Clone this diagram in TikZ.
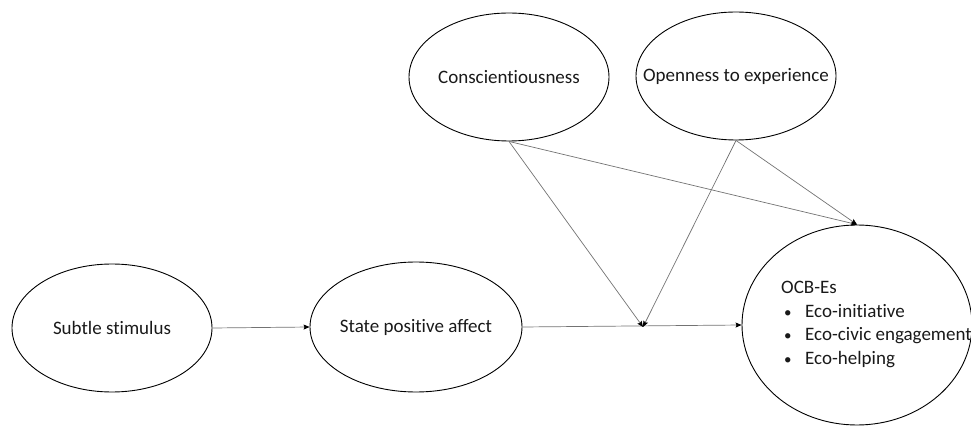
\documentclass[tikz,border=0pt]{standalone}
\usepackage{fontspec}
\setmainfont{Carlito}[Ligatures=CommonOff]
\usetikzlibrary{shapes.geometric,arrows.meta}
\begin{document}
\begin{tikzpicture}[x=1pt,y=-1pt,
  oval/.style={draw=black,line width=0.9pt,shape=ellipse,inner sep=0pt},
  conn/.style={draw=black!55,line width=0.7pt},
  tip/.style={-{Stealth[length=6pt,width=5pt,inset=1pt,black]}},
  lbl/.style={font=\fontsize{19}{23.5}\selectfont,text=black!90,align=left,inner sep=0pt}]
\useasboundingbox (0,0) rectangle (971,427);
\node[oval,minimum width=200pt,minimum height=128pt,label={[lbl]center:Subtle stimulus}] (ss) at (112,328) {};
\node[oval,minimum width=212pt,minimum height=130pt,label={[lbl]center:State positive affect}] (spa) at (416,327) {};
\node[oval,minimum width=200pt,minimum height=128pt,label={[lbl]center:Conscientiousness}] (con) at (509,77) {};
\node[oval,minimum width=200pt,minimum height=128pt,label={[lbl]center:Openness to experience}] (ope) at (736,76) {};
\node[oval,minimum width=230pt,minimum height=200pt] (ocb) at (857,325) {};
\node[lbl,anchor=north west] (ocbt) at (781,281) {OCB-Es\\
\makebox[24pt][l]{\hspace{3pt}{\fontsize{15}{15}\selectfont\textbullet}}Eco-initiative\\
\makebox[24pt][l]{\hspace{3pt}{\fontsize{15}{15}\selectfont\textbullet}}Eco-civic engagement\\
\makebox[24pt][l]{\hspace{3pt}{\fontsize{15}{15}\selectfont\textbullet}}Eco-helping};
\coordinate (m) at (643,327);
\draw[conn,tip] (ss.east) -- (spa.west);
\draw[conn,tip] (spa.east) -- (ocb.west);
\draw[conn,tip] (con.south) -- (m);
\draw[conn,tip] (ope.south) -- (m);
\draw[conn,tip] (con.south) -- (ocb.north);
\draw[conn,tip] (ope.south) -- (ocb.north);
\end{tikzpicture}
\end{document}
